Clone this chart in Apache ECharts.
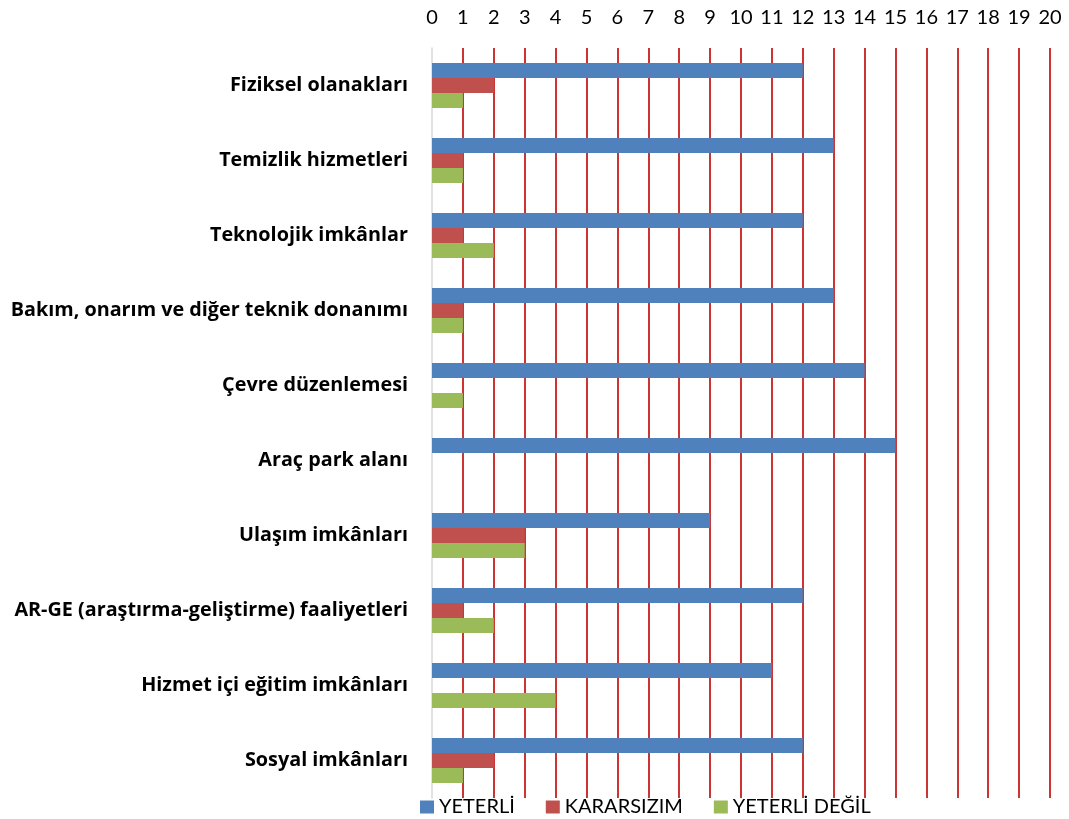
<!DOCTYPE html>
<html><head><meta charset="utf-8">
<script src="https://cdn.jsdelivr.net/npm/echarts@6/dist/echarts.min.js"></script>
<style>html,body{margin:0;padding:0;background:#fff}#c{width:1069px;height:819px}</style>
</head><body><div id="c"></div>
<script>
const categories = ["Fiziksel olanakları","Temizlik hizmetleri","Teknolojik imkânlar","Bakım, onarım ve diğer teknik donanımı","Çevre düzenlemesi","Araç park alanı","Ulaşım imkânları","AR-GE (araştırma-geliştirme) faaliyetleri","Hizmet içi eğitim imkânları","Sosyal imkânları"];
const seriesNames = ["YETERLİ","KARARSIZIM","YETERLİ DEĞİL"];
const yeterli = [12,13,12,13,14,15,9,12,11,12];
const kararsizim = [2,1,1,1,0,0,3,1,0,2];
const yeterliDegil = [1,1,2,1,1,0,3,2,4,1];
const colors = ["#4F81BD","#C0504D","#9BBB59"];
const values = [yeterli, kararsizim, yeterliDegil];

const chart = echarts.init(document.getElementById('c'));
chart.setOption({
  animation:false,
  backgroundColor:'#fff',
  grid:{left:432,right:19,top:48,bottom:21,containLabel:false},
  legend:{
    top:792,left:415,itemWidth:14,itemHeight:13,itemGap:31,icon:'rect',
    textStyle:{fontFamily:'Lato, sans-serif',fontSize:20,color:'#000'},
    data:seriesNames
  },
  xAxis:{
    type:'value',position:'top',min:0,max:20,interval:1,
    axisLine:{show:false},axisTick:{show:false},
    axisLabel:{fontSize:20,color:'#000',margin:20,fontFamily:'Lato, sans-serif'},
    splitLine:{show:true,showMinLine:false,lineStyle:{color:'#C00000',width:1.6}}
  },
  yAxis:{
    type:'category',inverse:true,data:categories,
    axisLine:{show:true,lineStyle:{color:'#D9D9D9',width:1.5}},
    axisTick:{show:false},
    axisLabel:{fontSize:19.8,fontWeight:'bold',color:'#000',margin:24,fontFamily:'Open Sans, sans-serif'}
  },
  series: seriesNames.map((n,i)=>({
    name:n,type:'bar',data:values[i],barWidth:15,barGap:'0%',
    itemStyle:{color:colors[i]}
  }))
});
</script></body></html>
